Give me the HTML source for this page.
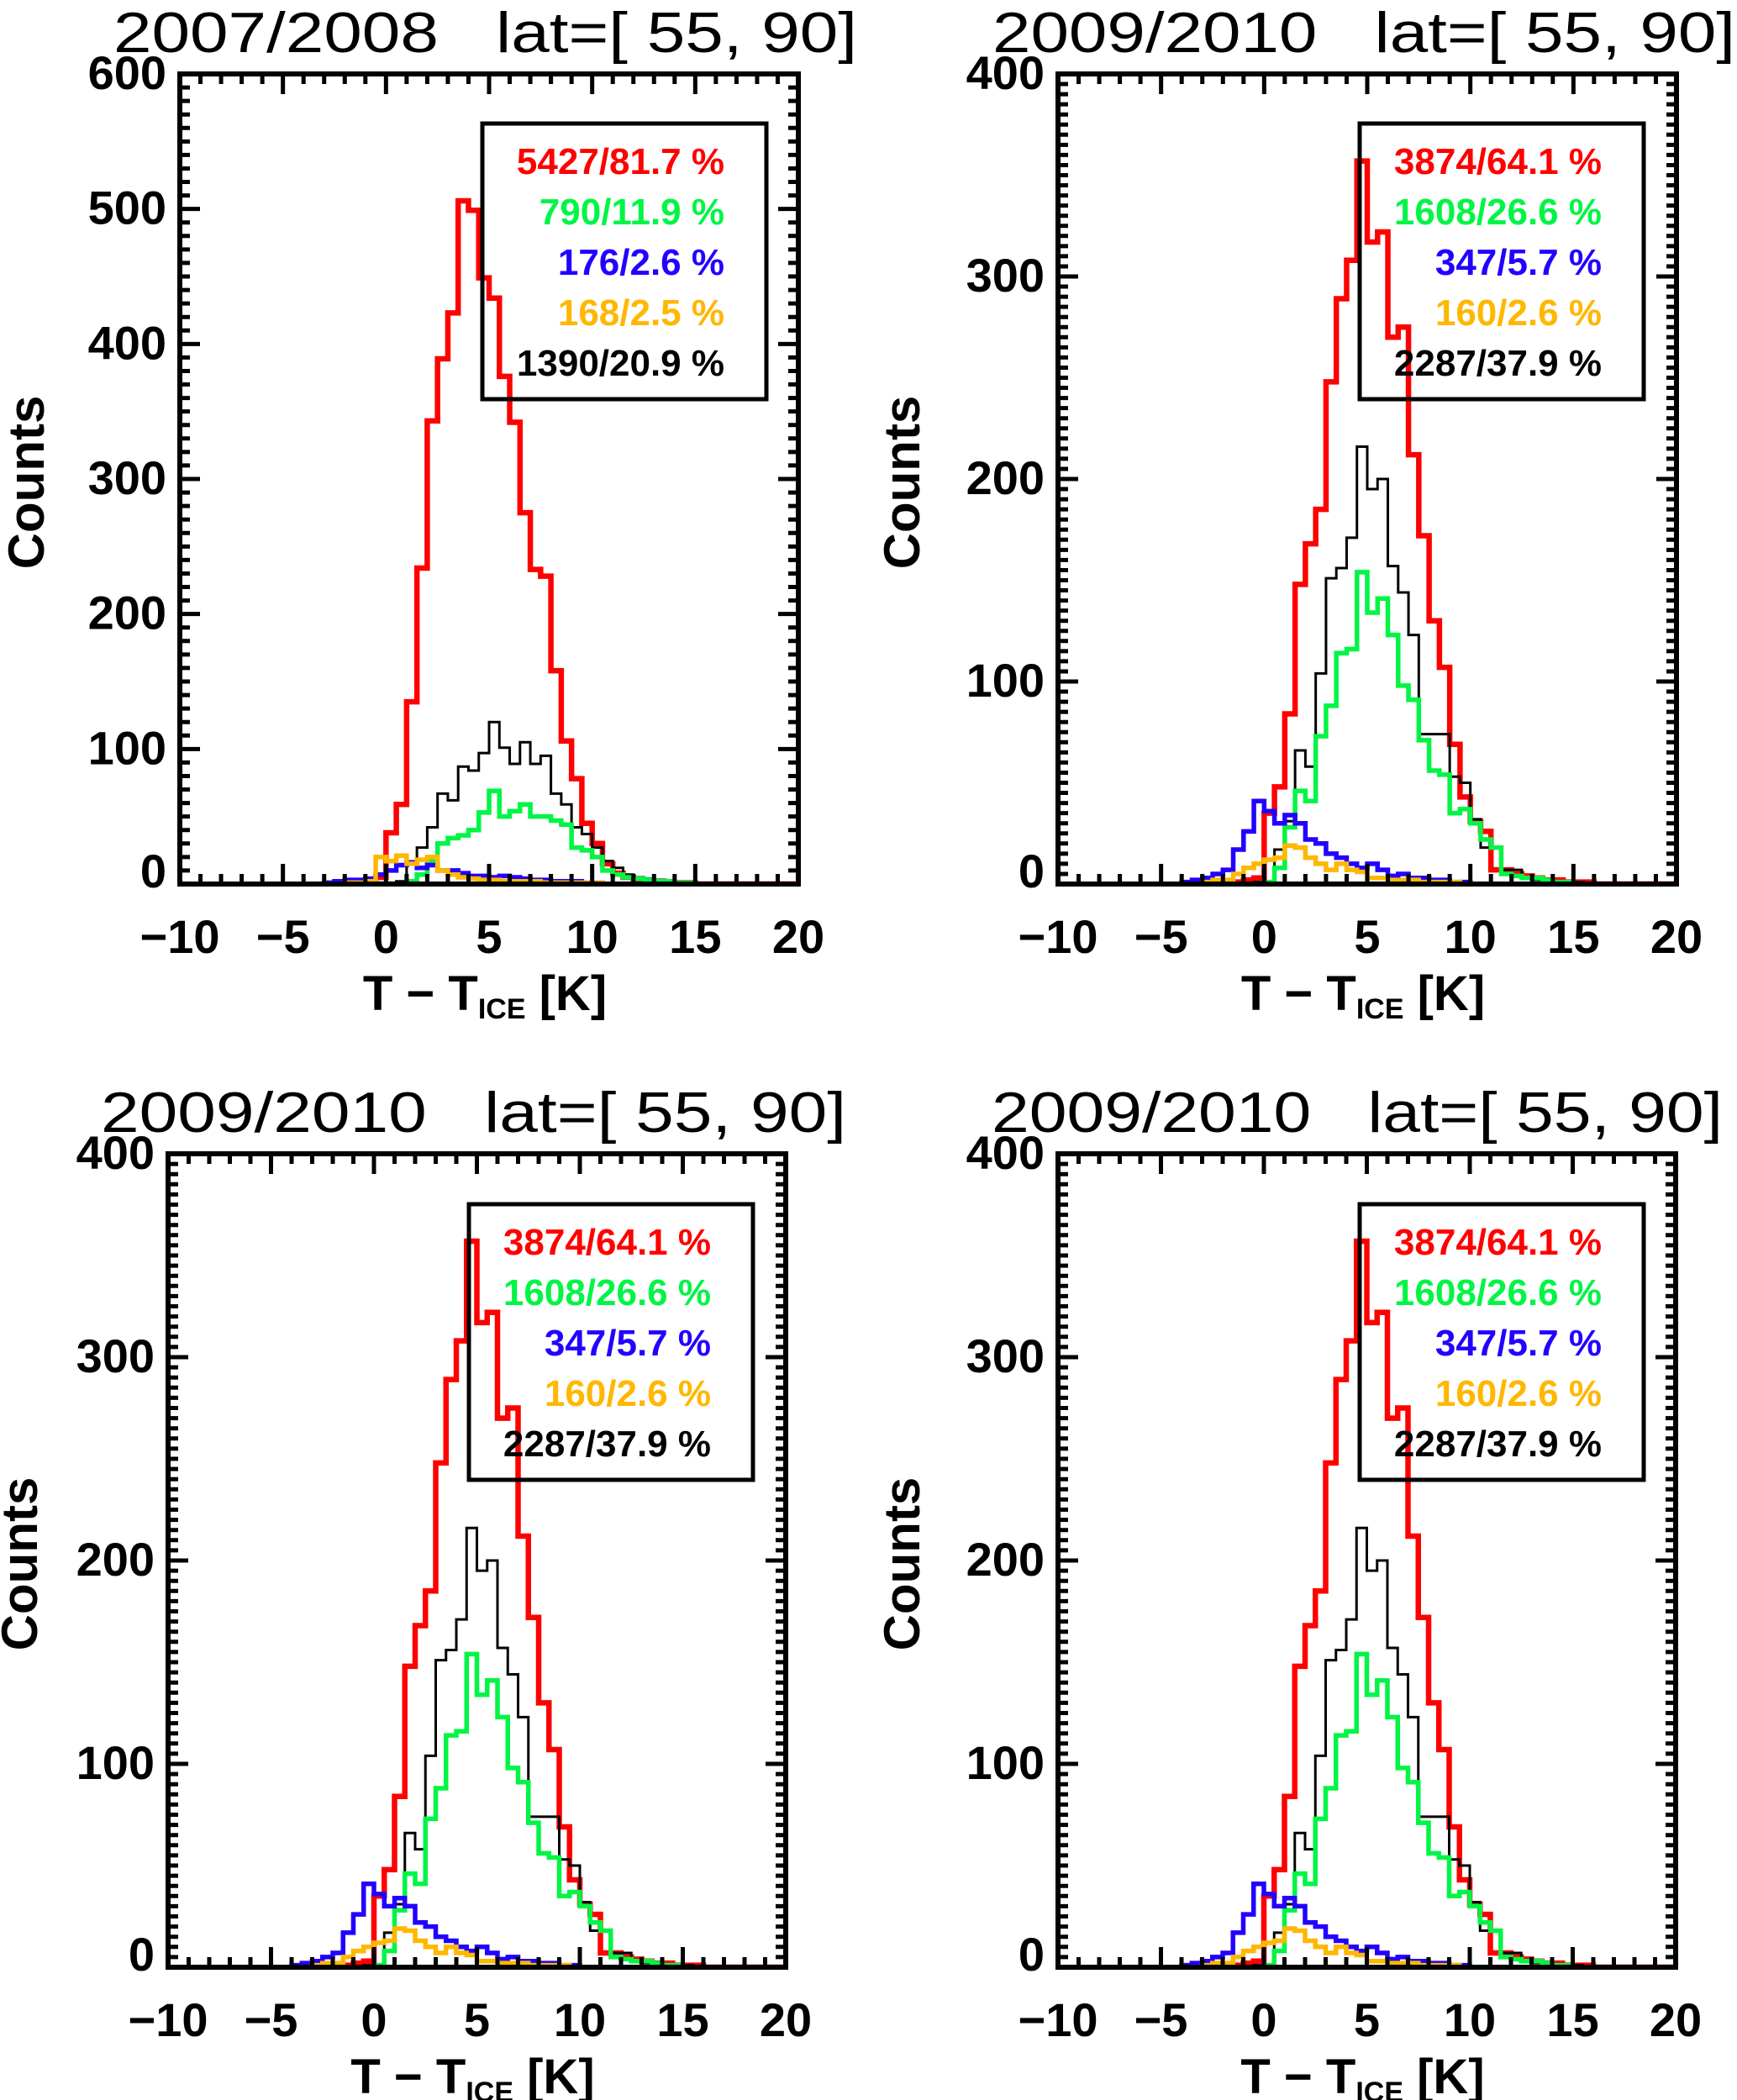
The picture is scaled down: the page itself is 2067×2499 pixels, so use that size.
<!DOCTYPE html>
<html><head><meta charset="utf-8"><style>
html,body{margin:0;padding:0;background:#fff;}
svg{display:block;font-family:"Liberation Sans",sans-serif;}
</style></head><body>
<svg id="fig" width="2067" height="2499" viewBox="0 0 2067 2499" xmlns="http://www.w3.org/2000/svg"></svg>
<script>
// ---- data (counts per 0.5 K bin) ----
const binWidth = 0.5;
const xTicks = [-10, -5, 0, 5, 10, 15, 20];
const xTickLabels = ["\u221210", "\u22125", "0", "5", "10", "15", "20"];
const yTicks1 = [0, 100, 200, 300, 400, 500, 600];
const yTicks2 = [0, 100, 200, 300, 400];

// panel 2007/2008 (first bin starts at -3 K)
const start1 = -3;
const red1 = [0,0,1,1,2,5, 38,59,135,234,343,389,423,506,499,449,434,376,342,275,233,228,158,106,78,45,30,15,8,5,3,2,2,1,1,1];
const black1 = [0,0,0,0,1,1, 1,2,15,27,42,67,62,87,84,97,120,101,89,105,89,95,67,59,42,37,27,17,12,7,5,4,3,2,1,1];
const green1 = [0,0,0,0,0,0, 0,0,2,7,17,30,34,36,40,53,69,50,54,59,50,50,47,44,27,25,20,10,7,5,4,3,2,2,1,1];
const blue1 = [1,2,3,3,4,7, 10,14,16,12,14,10,10,8,6,6,5,6,5,4,3,3,2,2,2,1,1];
const orange1 = [0,0,1,1,2,20, 17,21,15,18,20,10,7,5,4,3,3,2,2,2,2,1,1,1,1,1,1];
const legend1 = ["5427/81.7 %", "790/11.9 %", "176/2.6 %", "168/2.5 %", "1390/20.9 %"];

// panel 2009/2010 (first bin starts at -4 K)
const start2 = -4;
const red2 = [0,0,0,0,1,1,2,3, 35,48,84,148,168,185,248,289,308,357,317,322,270,275,212,172,130,107,69,43,31,26,7,7,5,4,3,2,2,1,1,1];
const black2 = [0,0,0,0,0,0,0,1, 1,17,31,66,58,104,151,156,171,216,195,200,157,144,123,74,74,74,53,50,32,18,18,7,7,3,2,2,1,1,1];
const green2 = [0,0,0,0,0,0,0,0, 1,8,28,46,41,73,88,114,116,154,134,141,123,98,91,71,56,54,35,37,30,22,18,5,4,3,3,2,1,1];
const blue2 = [1,2,3,5,7,17,26,41, 36,30,34,30,22,20,15,13,10,8,10,7,4,5,3,3,2,2,1,1];
const orange2 = [0,0,1,2,2,5,8,10, 12,13,19,18,13,10,7,10,7,6,3,3,2,2,2,1,1,1,1];
const legend2 = ["3874/64.1 %", "1608/26.6 %", "347/5.7 %", "160/2.6 %", "2287/37.9 %"];

const colors = ["#ff0000", "#00f545", "#2200ff", "#ffb700", "#000000"];

const NS = "http://www.w3.org/2000/svg";
const svg = document.getElementById("fig");
function mk(tag, attrs, parent) {
  const e = document.createElementNS(NS, tag);
  for (const k in attrs) e.setAttribute(k, attrs[k]);
  (parent || svg).appendChild(e);
  return e;
}

function drawPanel(p) {
  const g = mk("g", {});
  
  
  const xs = v => p.L + (v - (-10)) / 30 * (p.R - p.L);
  const ys = v => p.B - v / p.ymax * (p.B - p.T);

  // title
  const t = mk("text", {x: p.titleX, y: p.titleY, "font-size": 68, textLength: p.titleW, lengthAdjust: "spacingAndGlyphs", "xml:space": "preserve", style: "white-space:pre"}, g);
  t.textContent = p.title;
  
  

  // clip
  const cid = "clip-" + p.name;
  const cp = mk("clipPath", {id: cid}, g);
  mk("rect", {x: p.L, y: p.T, width: p.R - p.L, height: p.B - p.T}, cp);

  // series
  const series = [
    {d: p.red, c: colors[0], w: 6.5, n: "red-histogram"},
    {d: p.black, c: colors[4], w: 3, n: "black-histogram"},
    {d: p.green, c: colors[1], w: 5.5, n: "green-histogram"},
    {d: p.blue, c: colors[2], w: 5.5, n: "blue-histogram"},
    {d: p.orange, c: colors[3], w: 5.5, n: "orange-histogram"}
  ];
  for (const s of series) {
    let x = p.start;
    let d = "M" + xs(x) + "," + ys(0);
    for (let i = 0; i < s.d.length; i++) {
      d += " V" + ys(s.d[i]) + " H" + xs(x + binWidth);
      x += binWidth;
    }
    d += " V" + ys(0) + " H" + xs(20);
    const path = mk("path", {d: d, fill: "none", stroke: s.c, "stroke-width": s.w, "clip-path": "url(#" + cid + ")"}, g);
    
    
  }

  // ticks
  let td = "";
  for (let v = -10; v <= 20; v += 1) {
    const len = (v % 5 === 0) ? 24 : 12;
    const X = xs(v);
    td += "M" + X + "," + p.B + " v" + (-len) + " M" + X + "," + p.T + " v" + len + " ";
  }
  for (let v = 0; v <= p.ymax; v += p.yminor) {
    const len = (v % 100 === 0) ? 24 : 12;
    const Y = ys(v);
    td += "M" + p.L + "," + Y + " h" + len + " M" + p.R + "," + Y + " h" + (-len) + " ";
  }
  const ticks = mk("path", {d: td, stroke: "#000", "stroke-width": 5, fill: "none"}, g);
  
  

  // frame
  const fr = mk("rect", {x: p.L, y: p.T, width: p.R - p.L, height: p.B - p.T, fill: "none", stroke: "#000", "stroke-width": 6}, g);
  
  

  // x tick labels
  for (let i = 0; i < xTicks.length; i++) {
    const tl = mk("text", {x: xs(xTicks[i]), y: p.B + 82, "font-size": 56, "font-weight": "bold", "text-anchor": "middle"}, g);
    tl.textContent = xTickLabels[i];
    
    
  }
  // y tick labels
  for (const v of p.yTicks) {
    const yl = mk("text", {x: p.L - 16, y: ys(v) + (v === 0 ? 4 : 18), "font-size": 56, "font-weight": "bold", "text-anchor": "end"}, g);
    yl.textContent = String(v);
    
    
  }
  // axis titles
  const xt = mk("text", {x: (p.L + p.R) / 2 - 5, y: p.B + 150, "font-size": 58, "font-weight": "bold", "text-anchor": "middle"}, g);
  xt.innerHTML = 'T \u2212 T<tspan font-size="34" dy="10">ICE</tspan><tspan dy="-10"> [K]</tspan>';
  
  
  const cy = (p.T + p.B) / 2 + 4;
  const yt = mk("text", {x: p.countsX, y: cy, "font-size": 60, "font-weight": "bold", "text-anchor": "middle", transform: "rotate(-90 " + p.countsX + " " + cy + ")", "dominant-baseline": "middle"}, g);
  yt.textContent = "Counts";
  
  

  // legend
  const lg = mk("g", {}, g);
  
  
  const lb = mk("rect", {x: p.lgX, y: p.lgY, width: 338, height: 328, fill: "none", stroke: "#000", "stroke-width": 5}, lg);
  
  
  for (let i = 0; i < p.legend.length; i++) {
    const le = mk("text", {x: p.lgX + 288, y: p.lgY + 60 + i * 60, "font-size": 44, "font-weight": "bold", "text-anchor": "end", fill: colors[i]}, lg);
    le.textContent = p.legend[i];
    
    
  }
}

const panels = [
  {name: "panel-2007-2008", title: "2007/2008   lat=[ 55, 90]", titleX: 135, titleY: 62, titleW: 885,
   L: 214, R: 950, T: 88, B: 1052, ymax: 600, yminor: 10, yTicks: yTicks1, countsX: 36,
   start: start1, red: red1, black: black1, green: green1, blue: blue1, orange: orange1, legend: legend1, lgX: 574, lgY: 147},
  {name: "panel-2009-2010-a", title: "2009/2010   lat=[ 55, 90]", titleX: 1181, titleY: 62, titleW: 884,
   L: 1259, R: 1995, T: 88, B: 1052, ymax: 400, yminor: 5, yTicks: yTicks2, countsX: 1078,
   start: start2, red: red2, black: black2, green: green2, blue: blue2, orange: orange2, legend: legend2, lgX: 1618, lgY: 147},
  {name: "panel-2009-2010-b", title: "2009/2010   lat=[ 55, 90]", titleX: 120, titleY: 1347, titleW: 887,
   L: 200, R: 935, T: 1373, B: 2341, ymax: 400, yminor: 5, yTicks: yTicks2, countsX: 28,
   start: start2, red: red2, black: black2, green: green2, blue: blue2, orange: orange2, legend: legend2, lgX: 558, lgY: 1433},
  {name: "panel-2009-2010-c", title: "2009/2010   lat=[ 55, 90]", titleX: 1180, titleY: 1347, titleW: 870,
   L: 1259, R: 1994, T: 1373, B: 2341, ymax: 400, yminor: 5, yTicks: yTicks2, countsX: 1078,
   start: start2, red: red2, black: black2, green: green2, blue: blue2, orange: orange2, legend: legend2, lgX: 1618, lgY: 1433}
];
panels.forEach(drawPanel);
</script>
</body></html>
